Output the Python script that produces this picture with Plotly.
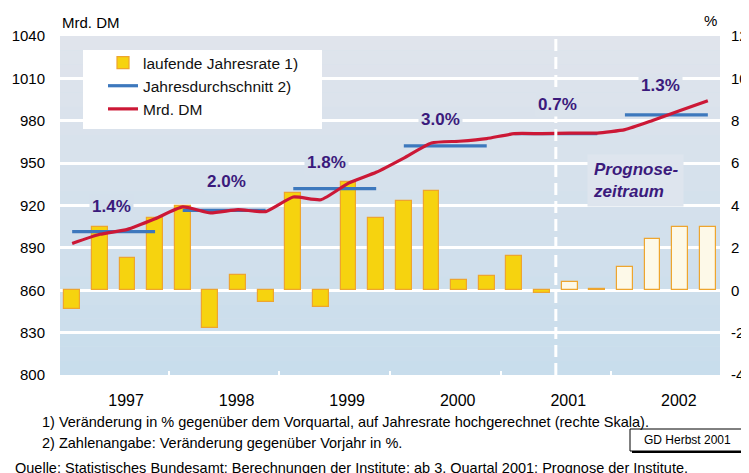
import plotly.graph_objects as go

# quarterly data 1997Q1 .. 2002Q4 (from 2001Q3 on: forecast)
quarters = [f"{y}Q{q}" for y in range(1997, 2003) for q in range(1, 5)]
rate_pct = [-0.9, 3.0, 1.5, 3.4,
            4.0, -1.8, 0.7, -0.55,
            4.6, -0.8, 5.1, 3.4,
            4.2, 4.7, 0.5, 0.65,
            1.6, -0.13, 0.4, 0.06,
            1.1, 2.4, 3.0, 3.0]
mrd_dm = [893.1, 899.6, 903.1, 910.6,
          919.0, 914.8, 917.1, 915.7,
          926.0, 924.1, 935.8, 943.5,
          953.6, 964.3, 965.5, 967.4,
          970.9, 970.9, 971.3, 971.3,
          973.7, 980.2, 987.2, 994.2]
forecast_from = "2001Q3"

years = ["1997", "1998", "1999", "2000", "2001", "2002"]
year_avg_dm = [901.5, 916.6, 932.0, 962.2, 970.9, 984.2]
year_growth = ["1.4%", "2.0%", "1.8%", "3.0%", "0.7%", "1.3%"]

pct_ticks = [-4, -2, 0, 2, 4, 6, 8, 10, 12]
pct_ticktext = ["-4", "-2", "0", "2", "4", "6", "8", "10", "12"]
dm_ticks = [800, 830, 860, 890, 920, 950, 980, 1010, 1040]

FONT = "Arial, Liberation Sans, sans-serif"
PURPLE = "#3b1a7c"
YELLOW = "#f6d30f"
CREAM = "#fdf9e8"
ORANGE = "#eea52e"
RED = "#cc1836"
BLUE = "#3d78bd"

# the page body adds an 8px margin, so the figure is 8px smaller each way
# plot area on screen: x 60..720, y 36..375
PX0, PX1, PY0, PY1 = 60, 720, 36, 375


def px(xp):
    return (xp - PX0) / (PX1 - PX0)


def py(yp):
    return (PY1 - yp) / (PY1 - PY0)


x = list(range(len(quarters)))
fc = quarters.index(forecast_from)

fig = go.Figure()

# bars on the % axis (primary y, right side)
fig.add_trace(go.Bar(
    x=x, y=rate_pct,
    name="laufende Jahresrate 1)",
    width=0.57,
    marker=dict(
        color=[YELLOW if i < fc else CREAM for i in x],
        line=dict(color=ORANGE, width=1.2),
    ),
    yaxis="y",
))

# yearly averages as short horizontal segments
ax, ay = [], []
for i, v in enumerate(year_avg_dm):
    ax += [4 * i, 4 * i + 3, None]
    ay += [v, v, None]
fig.add_trace(go.Scatter(
    x=ax, y=ay, mode="lines",
    name="Jahresdurchschnitt 2)",
    line=dict(color=BLUE, width=3.2),
    yaxis="y2",
))

fig.add_trace(go.Scatter(
    x=x, y=mrd_dm, mode="lines",
    name="Mrd. DM",
    line=dict(color=RED, width=3.2, shape="spline", smoothing=0.5),
    yaxis="y2",
))

# background gradient bands
shapes = []
top = (0xe0, 0xe4, 0xec)
bot = (0xc8, 0xdd, 0xec)
n = 24
for k in range(n):
    t = (k + 0.5) / n
    c = tuple(round(top[j] + (bot[j] - top[j]) * t) for j in range(3))
    shapes.append(dict(
        type="rect", xref="paper", yref="paper",
        x0=0, x1=1, y0=1 - (k + 1) / n, y1=1 - k / n,
        fillcolor="rgb(%d,%d,%d)" % c, line_width=0, layer="below",
    ))

# forecast separator
shapes.append(dict(
    type="line", xref="x", yref="paper",
    x0=fc - 0.5, x1=fc - 0.5, y0=0, y1=1,
    line=dict(color="white", width=3, dash="12px,6px"), layer="above",
))

# legend box
shapes.append(dict(
    type="rect", xref="paper", yref="paper",
    x0=px(83), x1=px(322), y0=py(129), y1=py(50),
    fillcolor="white", line_width=0, layer="above",
))

# GD Herbst box with shadow
shapes.append(dict(
    type="rect", xref="paper", yref="paper",
    x0=px(632), x1=px(746), y0=py(453), y1=py(431),
    fillcolor="black", line_width=0, layer="above",
))
shapes.append(dict(
    type="rect", xref="paper", yref="paper",
    x0=px(630), x1=px(744), y0=py(451), y1=py(429),
    fillcolor="white", line=dict(color="black", width=1), layer="above",
))

annotations = []
label_pos = [(1.41, 919.2), (5.6, 936.7), (9.19, 950.7),
             (13.31, 980.9), (17.55, 991.4), (21.27, 1004.7)]
for (lx, ly), txt in zip(label_pos, year_growth):
    frac = (1040 - ly) / 240
    c = tuple(round(top[j] + (bot[j] - top[j]) * frac) for j in range(3))
    annotations.append(dict(
        x=lx, y=ly, xref="x", yref="y2", text=f"<b>{txt}</b>",
        showarrow=False, font=dict(family=FONT, size=17, color=PURPLE),
        bgcolor="rgb(%d,%d,%d)" % c, borderpad=2,
    ))

annotations.append(dict(
    x=20.37, y=937.4, xref="x", yref="y2",
    text="<b><i>Prognose-<br>zeitraum</i></b>", align="left",
    showarrow=False, font=dict(family=FONT, size=17, color=PURPLE),
    bgcolor="#dee5ee", borderpad=5,
))


def note(xp, yp, text, size=14.5, xanchor="left"):
    return dict(x=px(xp), y=py(yp), xref="paper", yref="paper", text=text,
                xanchor=xanchor, yanchor="middle", showarrow=False,
                font=dict(family=FONT, size=size, color="black"))


annotations += [
    note(60, 22, "Mrd. DM", size=15),
    note(710, 21, "%", size=15, xanchor="center"),
    note(40, 421.7, "1) Veränderung in % gegenüber dem Vorquartal, auf Jahresrate hochgerechnet (rechte Skala)."),
    note(40, 443.3, "2) Zahlenangabe: Veränderung gegenüber Vorjahr in %."),
    note(13, 468, "Quelle: Statistisches Bundesamt; Berechnungen der Institute; ab 3. Quartal 2001: Prognose der Institute."),
    note(687, 440, "GD Herbst 2001", size=12, xanchor="center"),
]

fig.update_layout(
    width=741, height=465,
    margin=dict(l=PX0 - 8, r=741 - (PX1 - 8), t=PY0 - 8, b=465 - (PY1 - 8)),
    paper_bgcolor="white",
    plot_bgcolor="#d5e1ec",
    font=dict(family=FONT, size=15, color="black"),
    showlegend=True,
    legend=dict(
        x=px(103), y=py(46),
        xanchor="left", yanchor="top",
        bgcolor="rgba(0,0,0,0)",
        font=dict(family=FONT, size=15.5, color="#111"),
        tracegroupgap=0,
    ),
    bargap=0,
    xaxis=dict(
        range=[-0.44, len(quarters) - 0.56],
        tickmode="array",
        tickvals=[4 * i + 1.95 for i in range(len(years))],
        ticktext=years,
        ticks="",
        showgrid=False, zeroline=False, showline=False,
        tickfont=dict(size=16),
        ticklabelstandoff=14,
        automargin=False,
        minor=dict(
            tickmode="array",
            tickvals=[4 * i + 3.5 for i in range(len(years) - 1)],
            ticks="inside", ticklen=4, tickwidth=2, tickcolor="white",
        ),
    ),
    yaxis=dict(
        side="right",
        range=[-4, 12],
        tickmode="array", tickvals=pct_ticks, ticktext=pct_ticktext,
        showgrid=True, gridcolor="white", gridwidth=2.5,
        zeroline=False, showline=False, ticks="",
        ticklabelstandoff=10,
        tickfont=dict(size=15),
        automargin=False,
    ),
    yaxis2=dict(
        side="left", overlaying="y",
        range=[800, 1040],
        tickmode="array", tickvals=dm_ticks,
        showgrid=False, zeroline=False, showline=False, ticks="",
        ticklabelstandoff=14,
        tickfont=dict(size=15),
        automargin=False,
    ),
    shapes=shapes,
    annotations=annotations,
)

fig.write_html("out.html")
